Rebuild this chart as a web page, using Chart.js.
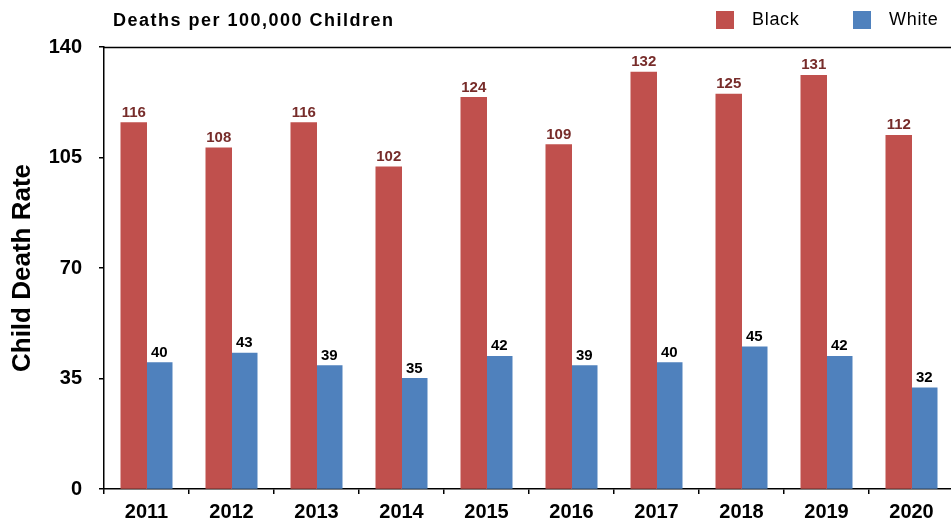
<!DOCTYPE html>
<html>
<head>
<meta charset="utf-8">
<script src="https://cdn.jsdelivr.net/npm/chart.js@4"></script>
<style>
  html, body { margin: 0; padding: 0; background: #fff; overflow: hidden; }
  #wrap { width: 956px; height: 522px; position: relative; }
</style>
</head>
<body>
<div id="wrap"><canvas id="c" width="956" height="522"></canvas></div>
<script>
const years = ['2011','2012','2013','2014','2015','2016','2017','2018','2019','2020'];
const blackRates = [116,108,116,102,124,109,132,125,131,112];
const whiteRates = [40,43,39,35,42,39,40,45,42,32];
const yTicks = [0,35,70,105,140];
const chartTitle = 'Deaths per 100,000 Children';
const yAxisTitle = 'Child Death Rate';

const FONT = '"Liberation Sans", Arial, sans-serif';
const RED = '#C0504D', BLUE = '#4F81BD';

const extras = {
  id: 'extras',
  afterDraw(chart) {
    const ctx = chart.ctx, a = chart.chartArea;
    ctx.save();
    // top border line
    ctx.strokeStyle = '#000';
    ctx.lineWidth = 1.5;
    ctx.beginPath();
    ctx.moveTo(a.left, a.top + 0.5);
    ctx.lineTo(chart.width, a.top + 0.5);
    ctx.stroke();
    // title
    ctx.fillStyle = '#000';
    ctx.font = 'bold 18px ' + FONT;
    ctx.letterSpacing = '1.5px';
    ctx.textBaseline = 'middle';
    ctx.textAlign = 'left';
    ctx.fillText(chartTitle, 113, 21);
    // legend
    const items = [{x: 716, c: RED, t: chart.data.datasets[0].label},
                   {x: 853, c: BLUE, t: chart.data.datasets[1].label}];
    ctx.font = '18px ' + FONT;
    ctx.letterSpacing = '0.7px';
    items.forEach(it => {
      ctx.fillStyle = it.c;
      ctx.fillRect(it.x, 11, 18, 18);
      ctx.fillStyle = '#000';
      ctx.fillText(it.t, it.x + 36, 20);
    });
    ctx.letterSpacing = '0px';
    // data labels
    ctx.font = 'bold 15px ' + FONT;
    ctx.textAlign = 'center';
    ctx.textBaseline = 'alphabetic';
    chart.data.datasets.forEach((ds, di) => {
      const meta = chart.getDatasetMeta(di);
      ctx.fillStyle = di === 0 ? '#772C2A' : '#000';
      meta.data.forEach((el, i) => {
        ctx.fillText(String(ds.data[i]), el.x, el.y - 6);
      });
    });
    ctx.restore();
  }
};

new Chart(document.getElementById('c'), {
  type: 'bar',
  data: {
    labels: years,
    datasets: [
      { label: 'Black', data: blackRates, backgroundColor: RED, borderWidth: 0, inflateAmount: 0.5, barPercentage: 1.0, categoryPercentage: 0.6 },
      { label: 'White', data: whiteRates, backgroundColor: BLUE, borderWidth: 0, inflateAmount: 0.5, barPercentage: 1.0, categoryPercentage: 0.6 }
    ]
  },
  options: {
    responsive: false,
    animation: false,
    layout: { padding: { top: 47, right: 2, bottom: 0, left: 0 } },
    plugins: { legend: { display: false }, title: { display: false }, tooltip: { enabled: false } },
    scales: {
      x: {
        offset: true,
        grid: { display: true, drawOnChartArea: false, offset: true, tickLength: 5, color: '#000', lineWidth: 1.5 },
        border: { color: '#000', width: 1.5 },
        ticks: { color: '#000', font: { family: FONT, size: 20, weight: 'bold' }, padding: 6, maxRotation: 0 },
        afterFit(s) { s.height = 33; }
      },
      y: {
        min: 0, max: 140,
        afterBuildTicks(s) { s.ticks = yTicks.map(v => ({ value: v })); },
        grid: { display: true, drawOnChartArea: false, tickLength: 5, color: '#000', lineWidth: 1.5 },
        border: { color: '#000', width: 1.5 },
        ticks: { color: '#000', font: { family: FONT, size: 20, weight: 'bold' }, padding: 17 },
        title: { display: true, text: yAxisTitle, color: '#000', font: { family: FONT, size: 26, weight: 'bold' }, padding: { top: 7, bottom: 0 } },
        afterFit(s) { s.width = 104; }
      }
    }
  },
  plugins: [extras]
});
</script>
</body>
</html>
